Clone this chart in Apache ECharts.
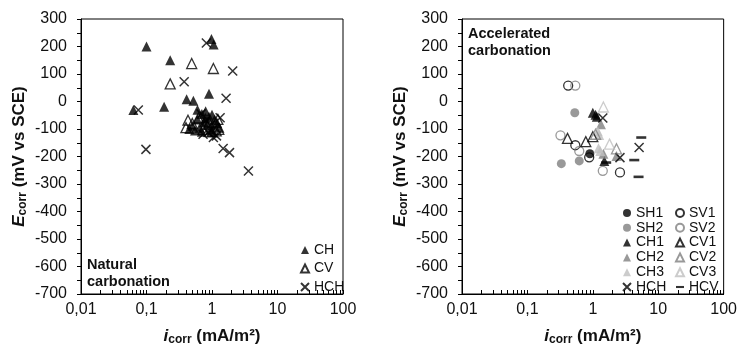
<!DOCTYPE html>
<html><head><meta charset="utf-8">
<script src="https://cdn.jsdelivr.net/npm/echarts@6/dist/echarts.min.js"></script>
<style>html,body{margin:0;padding:0;background:#fff}#c{width:740px;height:351px}</style>
</head><body><div id="c"></div>
<script>
// ---- Data (i_corr mA/m2, E_corr mV vs SCE) ----
const natCH = [[0.1,200],[0.23,150],[0.98,227],[1.06,207],[0.9,28],[0.063,-31],[0.186,-19],[0.41,8],[0.52,3],
  [0.6,-30],[0.7,-45],[0.8,-35],[0.9,-55],[1.0,-48],[0.75,-75],[0.5,-88],[0.55,-105],[0.65,-95],[0.85,-85],
  [1.1,-65],[1.2,-78],[0.95,-100],[0.6,-65],[1.0,-110],[0.45,-100],[0.7,-110],[0.8,-60],[1.3,-95]];
const natCV = [[0.49,138],[1.05,120],[0.23,64],[0.43,-68],[0.40,-95],[0.5,-80],[0.73,-101],[1.23,-65],
  [1.27,-101],[1.16,-107],[0.9,-75],[1.0,-110],[0.62,-60]];
const natHCH = [[0.82,213],[2.07,111],[0.376,72],[1.64,12],[0.075,-31],[0.098,-174],[1.48,-171],[1.85,-186],
  [3.6,-253],[0.73,-119],[0.87,-113],[1.05,-131],[1.33,-59],[1.17,-125],[0.95,-85],[0.8,-70],[1.1,-95],[0.68,-45]];

const accSH1 = [[0.9,-190]];
const accSH2 = [[0.53,-41],[0.33,-226],[0.62,-216]];
const accCH1 = [[1.0,-41],[1.1,-48],[1.15,-55],[1.5,-216]];
const accCH2 = [[1.33,-83],[2.3,-198],[1.45,-190]];
const accCH3 = [[1.19,-108],[1.25,-122],[1.22,-170],[1.3,-180]];
const accHCH = [[1.42,-60],[2.6,-204],[5.1,-167]];
const accSV1 = [[0.42,58],[0.54,-159],[0.88,-203],[2.6,-258]];
const accSV2 = [[0.54,58],[0.32,-123],[0.62,-180],[1.42,-252]];
const accCV1 = [[0.41,-134],[0.78,-146],[1.0,-128]];
const accCV2 = [[1.1,-119],[2.3,-172]];
const accCV3 = [[1.45,-20],[1.8,-155]];
const accHCV = [[1.6,-222],[5.5,-131],[4.3,-213],[5.0,-274]];

const xMajor = [0.01,0.1,1,10,100];
const xMajorLabels = ['0,01','0,1','1','10','100'];
const xTicks = [0.01,0.02,0.03,0.04,0.05,0.06,0.07,0.08,0.09,0.1,0.2,0.3,0.4,0.5,0.6,0.7,0.8,0.9,
  1,2,3,4,5,6,7,8,9,10,20,30,40,50,60,70,80,90,100];

// ---- Styles ----
const BLACK='#000', GRAY='#808080', LIGHT='#bfbfbf';
const XSYM='path://M0,0L10,10M0,10L10,0';
const DASH='path://M0,0H10V2.6H0Z';
const FONT='Liberation Sans, Arial, sans-serif';

function filled(sym, color, size){return {symbol:sym, symbolSize:size, itemStyle:{color:color}};}
function open(sym, color, size){return {symbol:sym, symbolSize:size, itemStyle:{color:'rgba(255,255,255,0)', borderColor:color, borderWidth:1.3}};}
function cross(color,size){return {symbol:XSYM, symbolSize:size, itemStyle:{color:'rgba(255,255,255,0)', borderColor:color, borderWidth:1.5}};}
function dash(color){return {symbol:DASH, symbolSize:[10,2.6], itemStyle:{color:color}};}

function mk(name, data, idx, st){
  return Object.assign({type:'scatter', name:name, data:data, xAxisIndex:idx, yAxisIndex:idx, silent:true, z:2}, st);
}

function xAxis(idx){
  return {type:'log', logBase:10, min:0.01, max:100, gridIndex:idx,
    axisLine:{show:true, onZero:false, lineStyle:{color:BLACK, width:1}},
    axisTick:{show:true, inside:true, length:4, customValues:xTicks, lineStyle:{color:BLACK}},
    axisLabel:{customValues:xMajor, color:'#111', fontSize:16, fontFamily:FONT, margin:8,
      formatter:function(v){const k=xMajor.findIndex(m=>Math.abs(Math.log10(m)-Math.log10(v))<1e-6);return k>=0?xMajorLabels[k]:'';}},
    splitLine:{show:false},
    name:'{i|i}{s|corr}{n| (mA/m²)}', nameLocation:'middle', nameGap:32,
    nameTextStyle:{rich:{
      i:{fontSize:17, fontWeight:'bold', fontStyle:'italic', fontFamily:FONT, color:'#111', lineHeight:20},
      s:{fontSize:12, fontWeight:'bold', fontFamily:FONT, color:'#111', verticalAlign:'bottom', lineHeight:14},
      n:{fontSize:17, fontWeight:'bold', fontFamily:FONT, color:'#111', lineHeight:20}}}
  };
}
function yAxis(idx){
  return {type:'value', min:-700, max:300, interval:100, gridIndex:idx,
    axisLine:{show:true, onZero:false, lineStyle:{color:BLACK, width:1}},
    axisTick:{show:true, inside:false, length:4, lineStyle:{color:BLACK}},
    minorTick:{show:true, splitNumber:2, length:4, lineStyle:{color:BLACK}},
    axisLabel:{color:'#111', fontSize:16, fontFamily:FONT, margin:14},
    splitLine:{show:false},
    name:'{i|E}{s|corr}{n| (mV vs SCE)}', nameLocation:'middle', nameGap:52, nameRotate:90,
    nameTextStyle:{rich:{
      i:{fontSize:17, fontWeight:'bold', fontStyle:'italic', fontFamily:FONT, color:'#111', lineHeight:20},
      s:{fontSize:12, fontWeight:'bold', fontFamily:FONT, color:'#111', verticalAlign:'bottom', lineHeight:14},
      n:{fontSize:17, fontWeight:'bold', fontFamily:FONT, color:'#111', lineHeight:20}}}
  };
}

const legendText = {fontSize:14, fontFamily:FONT, color:'#111'};

const option = {
  animation:false,
  backgroundColor:'#fff',
  grid:[
    {left:81, top:19, width:262, height:277, show:true, borderColor:BLACK, borderWidth:1, backgroundColor:'transparent'},
    {left:462, top:19, width:262, height:277, show:true, borderColor:BLACK, borderWidth:1, backgroundColor:'transparent'}
  ],
  xAxis:[xAxis(0), xAxis(1)],
  yAxis:[yAxis(0), yAxis(1)],
  legend:[
    {orient:'vertical', left:300, top:243, padding:0, itemWidth:8, itemHeight:8, itemGap:4.5, textStyle:legendText,
      selectedMode:false, data:[{name:'CH'},{name:'CV'},{name:'HCH', icon:XSYM}]},
    {orient:'vertical', left:622, top:206, padding:0, itemWidth:8, itemHeight:8, itemGap:0.8, textStyle:legendText,
      selectedMode:false, data:[{name:'SH1'},{name:'SH2'},{name:'CH1'},{name:'CH2'},{name:'CH3'},{name:'HCH ', icon:XSYM}]},
    {orient:'vertical', left:675, top:206, padding:0, itemWidth:8, itemHeight:8, itemGap:0.8, textStyle:legendText,
      selectedMode:false, data:[{name:'SV1'},{name:'SV2'},{name:'CV1'},{name:'CV2'},{name:'CV3'},{name:'HCV', icon:DASH}]}
  ],
  graphic:[
    {type:'text', left:87, top:257, style:{text:'Natural\ncarbonation', font:'bold 14.5px '+FONT, fill:'#111', lineHeight:16.5}},
    {type:'text', left:468, top:25, style:{text:'Accelerated\ncarbonation', font:'bold 14.5px '+FONT, fill:'#111', lineHeight:17.5}}
  ],
  series:[
    mk('CH', natCH, 0, filled('triangle', BLACK, 10)),
    mk('CV', natCV, 0, open('triangle', BLACK, 10)),
    mk('HCH', natHCH, 0, cross(BLACK, 9)),
    mk('SH1', accSH1, 1, filled('circle', BLACK, 9)),
    mk('SH2', accSH2, 1, filled('circle', GRAY, 9)),
    mk('CH1', accCH1, 1, filled('triangle', BLACK, 10)),
    mk('CH2', accCH2, 1, filled('triangle', GRAY, 10)),
    mk('CH3', accCH3, 1, filled('triangle', LIGHT, 10)),
    mk('HCH ', accHCH, 1, cross(BLACK, 9)),
    mk('SV1', accSV1, 1, open('circle', BLACK, 9)),
    mk('SV2', accSV2, 1, open('circle', GRAY, 9)),
    mk('CV1', accCV1, 1, open('triangle', BLACK, 10)),
    mk('CV2', accCV2, 1, open('triangle', GRAY, 10)),
    mk('CV3', accCV3, 1, open('triangle', LIGHT, 10)),
    mk('HCV', accHCV, 1, dash(BLACK))
  ]
};
const chart = echarts.init(document.getElementById('c'), null, {renderer:'canvas'});
chart.setOption(option);
</script></body></html>
